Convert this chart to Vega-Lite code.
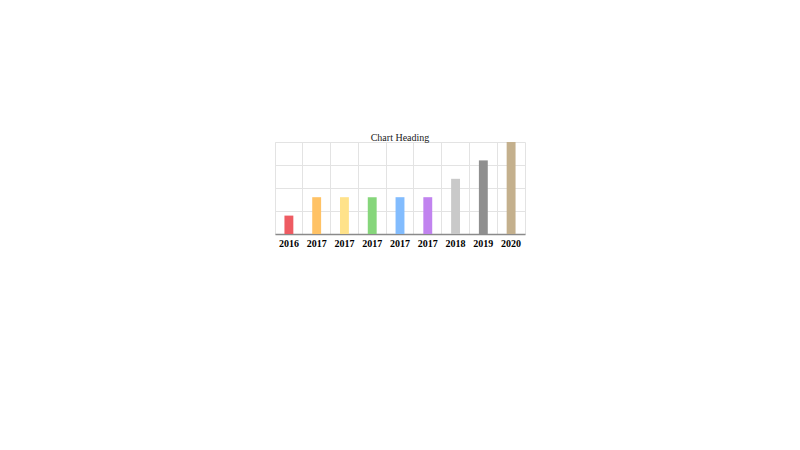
{
  "$schema": "https://vega.github.io/schema/vega-lite/v6.json",
  "width": 250,
  "height": 92,
  "autosize": "none",
  "padding": {"left": 275, "top": 142, "right": 275, "bottom": 216},
  "background": "white",
  "title": {
    "text": "Chart Heading",
    "font": "Liberation Serif",
    "fontSize": 10,
    "fontWeight": "normal",
    "color": "#222",
    "offset": -1
  },
  "config": {
    "view": {"stroke": "#e3e3e3", "strokeWidth": 1}
  },
  "data": {
    "values": [
      {"key": "2016", "value": 1},
      {"key": "2017a", "value": 2},
      {"key": "2017b", "value": 2},
      {"key": "2017c", "value": 2},
      {"key": "2017d", "value": 2},
      {"key": "2017e", "value": 2},
      {"key": "2018", "value": 3},
      {"key": "2019", "value": 4},
      {"key": "2020", "value": 5}
    ]
  },
  "mark": {"type": "bar", "width": {"band": 0.32}},
  "encoding": {
    "x": {
      "field": "key",
      "type": "nominal",
      "sort": null,
      "title": null,
      "scale": {"paddingInner": 0, "paddingOuter": 0},
      "axis": {
        "labelExpr": "slice(datum.label, 0, 4)",
        "labelAngle": 0,
        "labelFont": "Liberation Serif",
        "labelFontSize": 10,
        "labelFontWeight": "bold",
        "labelColor": "#000",
        "labelPadding": 4,
        "ticks": false,
        "domainColor": "#8a8a8a",
        "domainWidth": 1.5,
        "grid": true,
        "bandPosition": 0,
        "gridColor": "#e3e3e3"
      }
    },
    "y": {
      "field": "value",
      "type": "quantitative",
      "title": null,
      "scale": {"domain": [0, 5], "nice": false},
      "axis": {
        "values": [1.25, 2.5, 3.75],
        "labels": false,
        "ticks": false,
        "domain": false,
        "gridColor": "#e3e3e3"
      }
    },
    "color": {
      "field": "key",
      "type": "nominal",
      "legend": null,
      "scale": {
        "domain": ["2016", "2017a", "2017b", "2017c", "2017d", "2017e", "2018", "2019", "2020"],
        "range": ["#ee5b62", "#ffc265", "#ffe28a", "#86d67b", "#82bcfe", "#c183ef", "#c9c9c9", "#8f8f8f", "#c4b08d"]
      }
    }
  }
}
